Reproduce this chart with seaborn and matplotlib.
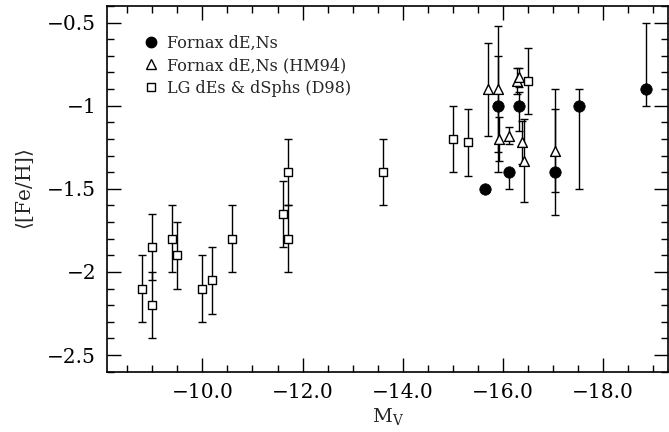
import matplotlib
matplotlib.use("Agg")
import matplotlib.pyplot as plt
from matplotlib.lines import Line2D
from matplotlib.ticker import MultipleLocator, FuncFormatter
import seaborn as sns
import pandas as pd

# Fornax dE,Ns (filled circles) with asymmetric errors
circ_mv = [-15.65, -15.90, -16.12, -16.32, -17.05, -17.52, -18.87]
circ_fe = [-1.50, -1.00, -1.40, -1.00, -1.40, -1.00, -0.90]
circ_err_up = [0.00, 0.30, 0.00, 0.08, 0.50, 0.10, 0.40]
circ_err_dn = [0.00, 0.40, 0.10, 0.15, 0.26, 0.50, 0.10]

# Fornax dE,Ns (HM94) (open triangles)
tri_mv = [-15.70, -15.90, -15.92, -16.12, -16.28, -16.33, -16.39, -16.42, -17.05]
tri_fe = [-0.90, -0.90, -1.20, -1.18, -0.85, -0.83, -1.22, -1.33, -1.27]
tri_err = [0.28, 0.38, 0.13, 0.05, 0.08, 0.06, 0.13, 0.25, 0.25]

# LG dEs & dSphs (D98) (open squares)
sq_mv = [-8.8, -9.0, -9.0, -9.4, -9.5, -10.0, -10.2, -10.6, -11.6, -11.7, -11.7,
         -13.6, -15.0, -15.3, -16.5]
sq_fe = [-2.10, -1.85, -2.20, -1.80, -1.90, -2.10, -2.05, -1.80, -1.65, -1.40, -1.80,
         -1.40, -1.20, -1.22, -0.85]
sq_err = [0.2] * len(sq_mv)

labels = ["Fornax dE,Ns", "Fornax dE,Ns (HM94)", "LG dEs & dSphs (D98)"]

sns.set_theme(style="white")
plt.rcParams['font.family'] = ['DejaVu Serif']
plt.rcParams['mathtext.fontset'] = 'dejavuserif'

fig = plt.figure(figsize=(6.69, 4.32), dpi=100)
ax = fig.add_axes([107.3 / 669, (432 - 371.7) / 432, (668 - 107.3) / 669, (371.7 - 6) / 432])

ebkw = dict(fmt='none', ecolor='black', elinewidth=1.0, capsize=3.2, capthick=1.0, zorder=1)
ax.errorbar(sq_mv, sq_fe, yerr=sq_err, **ebkw)
ax.errorbar(tri_mv, tri_fe, yerr=tri_err, **ebkw)
ax.errorbar(circ_mv, circ_fe, yerr=[circ_err_dn, circ_err_up], **ebkw)

df_sq = pd.DataFrame({"mv": sq_mv, "fe": sq_fe})
df_tri = pd.DataFrame({"mv": tri_mv, "fe": tri_fe})
df_circ = pd.DataFrame({"mv": circ_mv, "fe": circ_fe})

sns.scatterplot(data=df_sq, x="mv", y="fe", marker="s", s=36, facecolor="white",
                edgecolor="black", linewidth=1.0, ax=ax, zorder=3)
sns.scatterplot(data=df_tri, x="mv", y="fe", marker="^", s=50, facecolor="white",
                edgecolor="black", linewidth=1.0, ax=ax, zorder=3)
sns.scatterplot(data=df_circ, x="mv", y="fe", marker="o", s=68, color="black",
                edgecolor="black", linewidth=0.5, ax=ax, zorder=4)

ax.set_xlim(-8.1, -19.3)
ax.set_ylim(-2.6, -0.4)
ax.xaxis.set_major_locator(MultipleLocator(2.0))
ax.xaxis.set_minor_locator(MultipleLocator(0.5))
ax.yaxis.set_major_locator(MultipleLocator(0.5))
ax.yaxis.set_minor_locator(MultipleLocator(0.1))


def xfmt(v, pos):
    return "\u2212%.1f" % abs(v) if v < 0 else "%.1f" % v


def yfmt(v, pos):
    s = ("%g" % round(abs(v), 2))
    return "\u2212" + s if v < 0 else s


ax.xaxis.set_major_formatter(FuncFormatter(xfmt))
ax.yaxis.set_major_formatter(FuncFormatter(yfmt))

ax.tick_params(which='both', direction='in', top=True, right=True, bottom=True, left=True,
               colors='black', labelsize=14.5, width=1.0)
ax.tick_params(which='major', length=10, pad=8)
ax.tick_params(which='minor', length=5)
for sp in ax.spines.values():
    sp.set_color('black')
    sp.set_linewidth(1.2)

ax.set_xlabel(r"M$_{\rm V}$", fontsize=14, labelpad=3)
ax.set_ylabel(r"$\langle$[Fe/H]$\rangle$", fontsize=14.5, labelpad=8)

handles = [
    Line2D([], [], marker='o', linestyle='none', markerfacecolor='black', markeredgecolor='black', markersize=7.5),
    Line2D([], [], marker='^', linestyle='none', markerfacecolor='white', markeredgecolor='black', markersize=6.5, markeredgewidth=1.0),
    Line2D([], [], marker='s', linestyle='none', markerfacecolor='white', markeredgecolor='black', markersize=5.5, markeredgewidth=1.0),
]
leg = ax.legend(handles=handles, labels=labels, loc='upper left', bbox_to_anchor=(0.055, 0.94),
                frameon=False, fontsize=11.5, handlelength=0.8, handletextpad=0.6,
                labelspacing=0.35, borderaxespad=0.0)

fig.savefig("out.png", dpi=100)
